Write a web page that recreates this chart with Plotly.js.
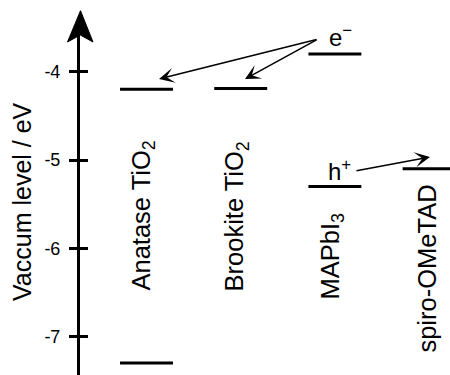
<!DOCTYPE html>
<html>
<head>
<meta charset="utf-8">
<script src="https://cdn.plot.ly/plotly-3.0.1.min.js"></script>
<style>html,body{margin:0;padding:0;background:#fff;}#chart{width:450px;height:375px;}</style>
</head>
<body>
<div id="chart"></div>
<script>
// ---- data ----
const categories = ['Anatase TiO<sub>2</sub>', 'Brookite TiO<sub>2</sub>', 'MAPbI<sub>3</sub>', 'spiro-OMeTAD'];
const upperLevels = [-4.2, -4.19, -3.8, null];   // conduction band / LUMO (eV)
const lowerLevels = [-7.3, null, -5.3, -5.1];    // valence band / HOMO (eV)
const tickVals = [-4, -5, -6, -7];
const tickText = ['-4', '-5', '-6', '-7'];
const yTitle = 'Vaccum level / eV';
const electronLabel = 'e<sup>\u2212</sup>';
const holeLabel = 'h<sup>+</sup>';

// ---- layout helpers ----
const FONT = 'Liberation Sans, Arial, Helvetica, sans-serif';
const halfW = 0.281;
const yRange = [-7.435, -3.4145];
const xRange = [-0.706, 3.222];

function levelTrace(levels) {
  const xs = [], ys = [];
  levels.forEach((v, i) => {
    if (v === null) return;
    xs.push(i - halfW, i + halfW, null);
    ys.push(v, v, null);
  });
  return {x: xs, y: ys, mode: 'lines', type: 'scatter', hoverinfo: 'skip',
          line: {color: '#000', width: 3}, cliponaxis: true, showlegend: false};
}

const traces = [
  levelTrace(upperLevels),
  levelTrace(lowerLevels),
  {x: [], y: [], yaxis: 'y2', type: 'scatter', mode: 'lines', showlegend: false}
];

// label placements (layout only)
const labelPos = [
  {dx: -0.042, y: -5.634},
  {dx: -0.045, y: -5.634},
  {dx: -0.036, y: -6.087},
  {dx: -0.017, y: -6.224}
];

const annotations = categories.map((c, i) => ({
  x: i + labelPos[i].dx, y: labelPos[i].y, xref: 'x', yref: 'y',
  text: c, showarrow: false, textangle: -90,
  xanchor: 'center', yanchor: 'middle',
  font: {family: FONT, size: 25.5, color: '#000'}
}));

// axis title
annotations.push({x: -0.157, y: 0.49, xref: 'paper', yref: 'paper', text: yTitle,
  showarrow: false, textangle: -90, xanchor: 'center', yanchor: 'middle',
  font: {family: FONT, size: 25, color: '#000'}});

// electron / hole labels
annotations.push({x: 2.06, y: -3.6, xref: 'x', yref: 'y', text: electronLabel,
  showarrow: false, font: {family: FONT, size: 24, color: '#000'}});
annotations.push({x: 2.05, y: -5.115, xref: 'x', yref: 'y', text: holeLabel,
  showarrow: false, font: {family: FONT, size: 24, color: '#000'}});

// transfer arrows (tip near levels, tail near labels)
const arrowDefs = [
  {tip: [0.133, upperLevels[0] + 0.117], tail: [1.821, -3.630]},
  {tip: [1.046, upperLevels[1] + 0.107], tail: [1.821, -3.630]},
  {tip: [3.009, lowerLevels[3] + 0.134], tail: [2.213, -5.125]}
];
arrowDefs.forEach(a => annotations.push({
  x: a.tip[0], y: a.tip[1], ax: a.tail[0], ay: a.tail[1],
  xref: 'x', yref: 'y', axref: 'x', ayref: 'y',
  text: '', showarrow: true, arrowhead: 3, arrowsize: 1.7, arrowwidth: 1.5,
  arrowcolor: '#000', standoff: 0, startstandoff: 0
}));

const layout = {
  width: 450, height: 375,
  margin: {l: 80, r: 0, t: 20, b: 0},
  paper_bgcolor: '#fff', plot_bgcolor: 'rgba(0,0,0,0)',
  font: {family: FONT, color: '#000'},
  showlegend: false,
  xaxis: {range: xRange, visible: false, fixedrange: true},
  yaxis: {
    range: yRange, showgrid: false, zeroline: false,
    showline: true, linewidth: 3, linecolor: '#000',
    ticks: 'outside', ticklen: 8, tickwidth: 3, tickcolor: '#000',
    tickvals: tickVals, ticktext: tickText, ticklabelstandoff: 5,
    tickfont: {family: FONT, size: 18, color: '#000'},
    fixedrange: true
  },
  yaxis2: {
    overlaying: 'y', side: 'left', range: yRange, showgrid: false, zeroline: false,
    showline: false, ticks: 'inside', ticklen: 8, tickwidth: 3, tickcolor: '#000',
    tickvals: tickVals, showticklabels: false, fixedrange: true
  },
  shapes: [{
    type: 'path', xref: 'paper', yref: 'paper', xsizemode: 'pixel', ysizemode: 'pixel',
    xanchor: 0, yanchor: 1,
    path: 'M 0.5 9.3 L 13 -22 L 0.2 -15 L -12.5 -22 Z',
    fillcolor: '#000', line: {color: '#000', width: 1}
  }],
  annotations: annotations
};

Plotly.newPlot('chart', traces, layout, {displayModeBar: false, staticPlot: true});
</script>
</body>
</html>
